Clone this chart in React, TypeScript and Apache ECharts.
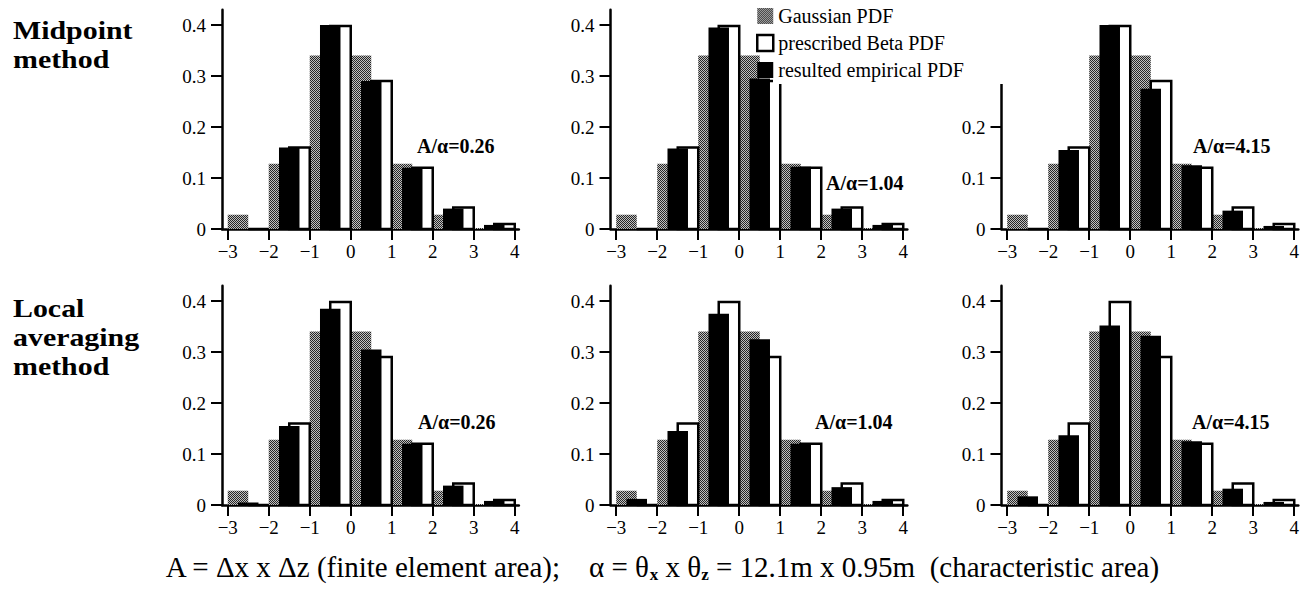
import React, { useEffect, useRef } from "react";
import * as echarts from "echarts";

// ---- data ----
const binStarts = [-3, -2, -1, 0, 1, 2, 3];
const xTicks = [-3, -2, -1, 0, 1, 2, 3, 4];
const yTicks = [0, 0.1, 0.2, 0.3, 0.4];
const gaussianPdf = [0.028, 0.128, 0.34, 0.34, 0.128, 0.028, 0.002];
const betaPdf = [0, 0.16, 0.398, 0.29, 0.12, 0.042, 0.01];
const midpoint026 = [0, 0.16, 0.4, 0.29, 0.12, 0.04, 0.008];
const midpoint104 = [0, 0.158, 0.395, 0.295, 0.122, 0.04, 0.008];
const midpoint415 = [0, 0.155, 0.4, 0.275, 0.125, 0.036, 0.006];
const local026 = [0.005, 0.155, 0.385, 0.305, 0.12, 0.038, 0.008];
const local104 = [0.012, 0.145, 0.375, 0.325, 0.12, 0.035, 0.008];
const local415 = [0.017, 0.137, 0.352, 0.332, 0.125, 0.032, 0.006];
const empirical = [midpoint026, midpoint104, midpoint415, local026, local104, local415];
const ratioLabels = ["A/α=0.26", "A/α=1.04", "A/α=4.15"];
const rowLabels = ["Midpoint\nmethod", "Local\naveraging\nmethod"];
const seriesNames = ["Gaussian PDF", "prescribed Beta PDF", "resulted empirical PDF"];

const SERIF = "'Liberation Serif', 'Times New Roman', serif";

function makePattern() {
  const c = document.createElement("canvas");
  c.width = 2;
  c.height = 2;
  const ctx = c.getContext("2d")!;
  ctx.fillStyle = "#c0c0c0";
  ctx.fillRect(0, 0, 2, 2);
  ctx.fillStyle = "#262626";
  ctx.fillRect(0, 0, 1, 1);
  ctx.fillRect(1, 1, 1, 1);
  return { image: c, repeat: "repeat" } as any;
}

export default function App() {
  const ref = useRef<HTMLDivElement>(null);
  useEffect(() => {
    if (!ref.current) return;
    const chart = echarts.init(ref.current, null, { renderer: "svg" });
    const pattern = makePattern();

    const lefts = [222, 610.5, 1001.5];
    const zeros = [229, 505];
    const unitY = 510;
    const yMax = 0.43;
    const xMin = -3.14;
    const xMax = 4.1;
    const binPx = 41;
    const gh = yMax * unitY;
    const gw = (xMax - xMin) * binPx;

    const grids: any[] = [];
    const xAxes: any[] = [];
    const yAxes: any[] = [];
    const series: any[] = [];

    const mk = (o: number, style: any) => (params: any, api: any) => {
      const x = api.value(0) + o;
      const v = api.value(1);
      const p0 = api.coord([x, v]);
      const p1 = api.coord([x + 0.5, 0]);
      return {
        type: "rect",
        shape: { x: p0[0], y: p0[1], width: p1[0] - p0[0], height: p1[1] - p0[1] },
        style,
      };
    };

    for (let r = 0; r < 2; r++) {
      for (let c = 0; c < 3; c++) {
        const g = r * 3 + c;
        grids.push({ left: lefts[c], top: zeros[r] - gh, width: gw, height: gh });
        xAxes.push({
          type: "value",
          gridIndex: g,
          min: xMin,
          max: xMax,
          splitLine: { show: false },
          axisLine: { show: true, onZero: false, lineStyle: { color: "#000", width: 2.5 } },
          axisTick: { show: true, customValues: xTicks, length: 11, inside: false, lineStyle: { color: "#000", width: 2 } },
          axisLabel: {
            customValues: xTicks,
            margin: 13,
            color: "#000",
            fontFamily: SERIF,
            fontSize: 19,
            formatter: (v: number) => (v < 0 ? "−" + Math.abs(v) : String(v)),
          },
        });
        yAxes.push({
          type: "value",
          gridIndex: g,
          min: 0,
          max: yMax,
          splitLine: { show: false },
          axisLine: { show: true, onZero: false, lineStyle: { color: "#000", width: 2.5 } },
          axisTick: { show: true, customValues: yTicks, length: 11, lineStyle: { color: "#000", width: 2 } },
          axisLabel: {
            customValues: yTicks,
            margin: 16,
            color: "#000",
            fontFamily: SERIF,
            fontSize: 19,
            formatter: (v: number) => (v === 0 ? "0" : v.toFixed(1)),
          },
        });
        const toData = (arr: number[]) => binStarts.map((b, i) => [b, arr[i]]);
        series.push({
          type: "custom",
          name: seriesNames[0],
          xAxisIndex: g,
          yAxisIndex: g,
          z: 2,
          itemStyle: { color: pattern },
          renderItem: mk(0, { fill: pattern, stroke: null }),
          data: toData(gaussianPdf),
        });
        series.push({
          type: "custom",
          name: seriesNames[1],
          xAxisIndex: g,
          yAxisIndex: g,
          z: 3,
          itemStyle: { color: "#fff", borderColor: "#000", borderWidth: 2 },
          renderItem: mk(0.5, { fill: "#fff", stroke: "#000", lineWidth: 2.5 }),
          data: toData(betaPdf),
        });
        series.push({
          type: "custom",
          name: seriesNames[2],
          xAxisIndex: g,
          yAxisIndex: g,
          z: 4,
          itemStyle: { color: "#000" },
          renderItem: mk(0.25, { fill: "#000", stroke: null }),
          data: toData(empirical[g]),
        });
      }
    }

    const ratioPos = [
      [417, 146], [826, 183], [1193, 146],
      [418, 422], [815, 422], [1192, 422],
    ];
    const graphics: any[] = [];
    // white backdrop behind the legend texts (covers the top of the right-hand panel's axis)
    graphics.push({
      type: "rect",
      z: 50,
      shape: { x: 773, y: 0, width: 234, height: 84 },
      style: { fill: "#fff" },
    });
    ratioPos.forEach((p, i) => {
      graphics.push({
        type: "text",
        x: p[0],
        y: p[1],
        z: 60,
        style: {
          text: ratioLabels[i % 3],
          fontFamily: SERIF,
          fontWeight: "bold",
          fontSize: 20,
          fill: "#000",
          textVerticalAlign: "middle",
        },
      });
    });
    const rowTop = [16, 294];
    rowLabels.forEach((t, r) => {
      graphics.push({
        type: "text",
        x: 13,
        y: rowTop[r],
        z: 60,
        scaleX: 1.15,
        style: {
          text: t,
          fontFamily: SERIF,
          fontWeight: "bold",
          fontSize: 26,
          lineHeight: 29,
          fill: "#000",
          textVerticalAlign: "top",
        },
      });
    });
    graphics.push({
      type: "text",
      x: 662,
      y: 567,
      z: 60,
      style: {
        text: "A = Δx x Δz (finite element area);    α = θ{sub|x} x θ{sub|z} = 12.1m x 0.95m  (characteristic area)",
        fontFamily: SERIF,
        fontSize: 29,
        fill: "#000",
        textAlign: "center",
        textVerticalAlign: "middle",
        rich: {
          sub: { fontFamily: SERIF, fontSize: 17, fontWeight: "bold", padding: [14, 0, 0, 0], fill: "#000" },
        },
      },
    });

    chart.setOption({
      animation: false,
      backgroundColor: "#fff",
      grid: grids,
      xAxis: xAxes,
      yAxis: yAxes,
      legend: {
        left: 751,
        top: 1,
        z: 80,
        orient: "vertical",
        icon: "rect",
        itemWidth: 16,
        itemHeight: 16,
        itemGap: 7,
        selectedMode: false,
        textStyle: { fontFamily: SERIF, fontSize: 20, color: "#000", lineHeight: 20 },
        data: [
          { name: seriesNames[0], itemStyle: { color: pattern } },
          { name: seriesNames[1], itemStyle: { color: "#fff", borderColor: "#000", borderWidth: 2.5 } },
          { name: seriesNames[2], itemStyle: { color: "#000" } },
        ],
      },
      graphic: graphics,
      series,
    });
    return () => chart.dispose();
  }, []);
  return (
    <div
      ref={ref}
      style={{ position: "fixed", left: 0, top: 0, width: 1303, height: 595, background: "#fff" }}
    />
  );
}
